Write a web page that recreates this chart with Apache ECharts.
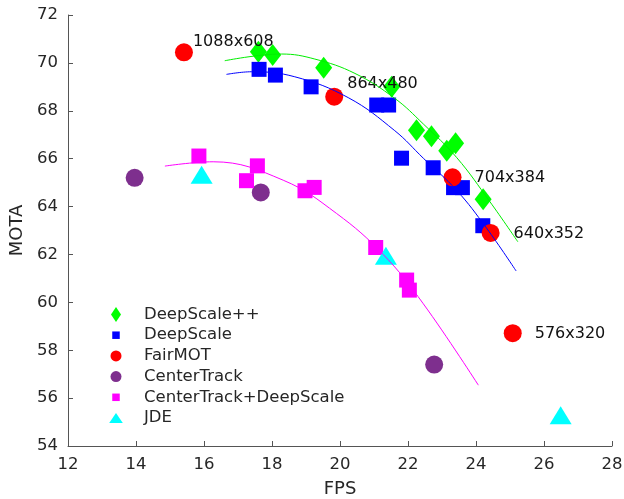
<!DOCTYPE html>
<html><head><meta charset="utf-8">
<script src="https://cdn.jsdelivr.net/npm/echarts@6/dist/echarts.min.js"></script>
<style>html,body{margin:0;padding:0;background:#fff}#c{width:624px;height:499px}</style>
</head><body><div id="c"></div>
<script>
// ---- data ----
const fpsDSpp  = [17.6, 18.02, 19.52, 21.52, 22.25, 22.69, 23.14, 23.4, 24.21];
const motaDSpp = [70.47, 70.33, 69.8, 69.0, 67.19, 66.94, 66.33, 66.64, 64.3];
const fpsDS  = [17.62, 18.10, 19.15, 21.08, 21.43, 21.81, 22.74, 23.34, 23.6, 24.2];
const motaDS = [69.73, 69.49, 69.0, 68.24, 68.24, 66.02, 65.62, 64.79, 64.79, 63.2];
const fpsFair  = [15.41, 19.83, 23.31, 24.43, 25.08];
const motaFair = [70.44, 68.59, 65.22, 62.9, 58.71];
const fairRes  = ['1088x608', '864x480', '704x384', '640x352', '576x320'];
const fpsCT  = [13.96, 17.67, 22.77];
const motaCT = [65.2, 64.59, 57.4];
const fpsCTDS  = [15.85, 17.25, 17.57, 18.97, 19.24, 21.05, 21.96, 22.04];
const motaCTDS = [66.11, 65.08, 65.70, 64.66, 64.8, 62.29, 60.93, 60.51];
const fpsJDE  = [15.93, 21.35, 26.49];
const motaJDE = [65.33, 61.95, 55.28];
// fitted trend curves
const fitDSppX = [16.61, 18.28, 19.26, 20.44, 21.61, 22.45, 23.43, 24.41, 25.23];
const fitDSppY = [70.09, 70.37, 70.16, 69.56, 68.52, 67.45, 66.05, 64.2, 62.53];
const fitDSX = [16.66, 17.40, 18.67, 20.24, 21.61, 22.45, 23.43, 24.31, 25.18];
const fitDSY = [69.52, 69.63, 69.42, 68.55, 67.17, 66.02, 64.68, 63.1, 61.31];
const fitCTDSX = [14.85, 16.27, 18.33, 19.9, 21.27, 22.45, 24.07];
const fitCTDSY = [65.69, 65.87, 65.1, 63.71, 62.0, 59.94, 56.54];
const seriesNames = ['DeepScale++', 'DeepScale', 'FairMOT', 'CenterTrack', 'CenterTrack+DeepScale', 'JDE'];
const xTicks = [12, 28, 2];
const yTicks = [54, 72, 2];
// label offsets for the FairMOT resolution labels (style)
const labelOffsets = [[0, -11], [4, -13], [13, 1], [14, 1], [13, 1]];

const zip = (a, b) => a.map((v, i) => [v, b[i]]);
const FONT = 'DejaVu Sans';
const txt = '#262626';

const fairData = fpsFair.map((v, i) => ({
  value: [v, motaFair[i]],
  label: { show: true, formatter: fairRes[i], position: 'right', distance: 0,
           offset: labelOffsets[i], fontSize: 16, fontFamily: FONT, color: '#111' }
}));

function fitLine(name, xs, ys, color) {
  return { name: name, type: 'line', data: zip(xs, ys), smooth: 0.4, showSymbol: false,
           symbol: 'none', lineStyle: { color: color, width: 1 }, z: 5, silent: true };
}

const legendIcons = [
  'path://M0,0 M16,16 M8,0.5 L13,8 L8,15.5 L3,8 Z',
  'path://M0,0 M16,16 M4.25,4.25 L11.75,4.25 L11.75,11.75 L4.25,11.75 Z',
  'path://M0,0 M16,16 M13.5,8 A5.5,5.5 0 1 1 2.5,8 A5.5,5.5 0 1 1 13.5,8 Z',
  'path://M0,0 M16,16 M13.5,8 A5.5,5.5 0 1 1 2.5,8 A5.5,5.5 0 1 1 13.5,8 Z',
  'path://M0,0 M16,16 M4.25,4.25 L11.75,4.25 L11.75,11.75 L4.25,11.75 Z',
  'path://M0,0 M16,16 M8,3 L14.8,13 L1.2,13 Z'
];

const chart = echarts.init(document.getElementById('c'), null, { renderer: 'canvas' });
chart.setOption({
  animation: false,
  backgroundColor: '#fff',
  grid: { left: 68, right: 12, top: 15, bottom: 53, containLabel: false, outerBoundsMode: 'none' },
  legend: {
    orient: 'vertical', left: 103, top: 301,
    itemWidth: 46, itemHeight: 16, itemGap: 3.7,
    textStyle: { fontSize: 16.5, fontFamily: FONT, color: txt, lineHeight: 16 },
    data: seriesNames.map((n, i) => ({ name: n, icon: legendIcons[i] }))
  },
  xAxis: {
    type: 'value', min: xTicks[0], max: xTicks[1], interval: xTicks[2],
    name: 'FPS', nameLocation: 'middle', nameGap: 34,
    nameTextStyle: { fontSize: 18, fontFamily: FONT, color: txt },
    axisLine: { show: true, onZero: false, lineStyle: { color: '#555', width: 1 } },
    axisTick: { show: true, inside: true, length: 5, lineStyle: { color: '#555' } },
    axisLabel: { fontSize: 16.5, fontFamily: FONT, color: txt, margin: 10 },
    splitLine: { show: false }
  },
  yAxis: {
    type: 'value', min: yTicks[0], max: yTicks[1], interval: yTicks[2],
    name: 'MOTA', nameLocation: 'middle', nameGap: 38,
    nameTextStyle: { fontSize: 18, fontFamily: FONT, color: txt },
    axisLine: { show: true, onZero: false, lineStyle: { color: '#555', width: 1 } },
    axisTick: { show: true, inside: true, length: 5, lineStyle: { color: '#555' } },
    axisLabel: { fontSize: 16.5, fontFamily: FONT, color: txt, margin: 10 },
    splitLine: { show: false }
  },
  series: [
    { name: seriesNames[0], type: 'scatter', symbol: 'diamond', symbolSize: [17, 22],
      itemStyle: { color: '#00ff00', opacity: 1 }, data: zip(fpsDSpp, motaDSpp), z: 2 },
    { name: seriesNames[1], type: 'scatter', symbol: 'rect', symbolSize: 15,
      itemStyle: { color: '#0000ff', opacity: 1 }, data: zip(fpsDS, motaDS), z: 2 },
    { name: seriesNames[2], type: 'scatter', symbol: 'circle', symbolSize: 18,
      itemStyle: { color: '#ff0000', opacity: 1 }, data: fairData, z: 3 },
    { name: seriesNames[3], type: 'scatter', symbol: 'circle', symbolSize: 18,
      itemStyle: { color: '#7e2f8e', opacity: 1 }, data: zip(fpsCT, motaCT), z: 2 },
    { name: seriesNames[4], type: 'scatter', symbol: 'rect', symbolSize: 15,
      itemStyle: { color: '#ff00ff', opacity: 1 }, data: zip(fpsCTDS, motaCTDS), z: 2 },
    { name: seriesNames[5], type: 'scatter', symbol: 'triangle', symbolSize: [22, 18],
      itemStyle: { color: '#00ffff', opacity: 1 }, data: zip(fpsJDE, motaJDE), z: 2 },
    fitLine('fitDSpp', fitDSppX, fitDSppY, '#00ee00'),
    fitLine('fitDS', fitDSX, fitDSY, '#0000ff'),
    fitLine('fitCTDS', fitCTDSX, fitCTDSY, '#ff00ff')
  ]
});
</script>
</body></html>
